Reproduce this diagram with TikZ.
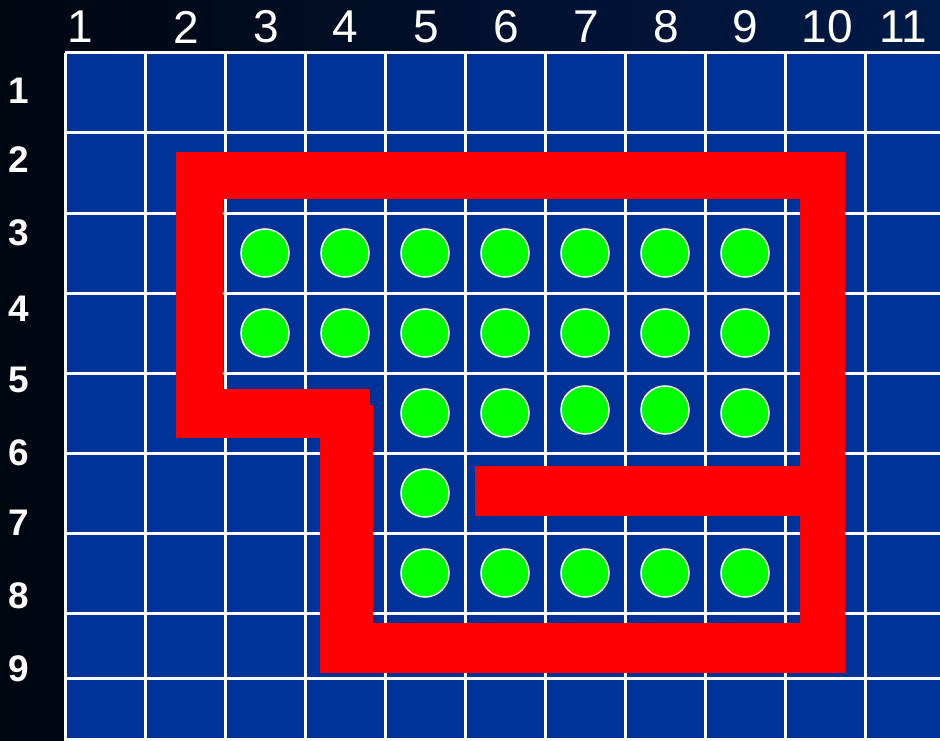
\documentclass[tikz,border=0pt]{standalone}
\usepackage{fontspec}
\setmainfont{Liberation Sans}
\definecolor{board}{RGB}{0,51,153}
\definecolor{nightblue}{RGB}{0,26,72}
\definecolor{nightblack}{RGB}{0,6,16}
\definecolor{wall}{RGB}{255,0,0}
\definecolor{stone}{RGB}{0,255,0}
\tikzset{
  gridline/.style={white, line width=3pt},
  colnum/.style={inner sep=0pt, text=white, font=\fontsize{46}{46}\selectfont},
  rownum/.style={inner sep=0pt, text=white, font=\fontsize{37}{37}\selectfont\bfseries},
  stonedot/.style={fill=stone, draw=white, line width=1.5pt}
}

\begin{document}
\begin{tikzpicture}[x=1pt,y=-1pt]
			\useasboundingbox (0,0) rectangle (940,741);
			\shade[left color=nightblack, right color=nightblue] (0,0) rectangle (940,741);
			% board
			\fill[board] (65,53) rectangle (940,741);
			\foreach \x in {65,145,...,865}
				\draw[gridline] (\x,53) -- (\x,741);
			\foreach \y in {53,133,213,293,373,453,533,613,678,739}
				\draw[gridline] (65,\y) -- (940,\y);
			% numbers
			\foreach \x/\n in {80/1,186/2,266/3,345/4,426/5,506/6,586/7,666/8,745/9,827/10,903/11}
				\node[colnum] (col\n) at (\x,27) {\n};
			\foreach \y/\n in {91/1,160/2,233/3,309/4,380/5,453/6,523/7,596/8,669/9}
				\node[rownum] (row\n) at (19,\y) {\n};
			% the wall
			\fill[wall] (176,152) rectangle (845,199);
			\fill[wall] (176,152) rectangle (223,438);
			\fill[wall] (176,389) rectangle (370,438);
			\fill[wall] (320,405) rectangle (373,673);
			\fill[wall] (320,623) rectangle (845,673);
			\fill[wall] (800,152) rectangle (845,673);
			\fill[wall] (475,466) rectangle (845,516);
			% stones
			\foreach \x in {265,345,...,745} {
				\draw[stonedot] (\x,253) circle(24);
				\draw[stonedot] (\x,333) circle(24);
			}
			\draw[stonedot] (425,413) circle(24);
			\draw[stonedot] (505,413) circle(24);
			\draw[stonedot] (585,410) circle(24);
			\draw[stonedot] (665,410) circle(24);
			\draw[stonedot] (745,413) circle(24);
			\draw[stonedot] (425,493) circle(24);
			\foreach \x in {425,505,...,745}
				\draw[stonedot] (\x,573) circle(24);
		\end{tikzpicture}
\end{document}
